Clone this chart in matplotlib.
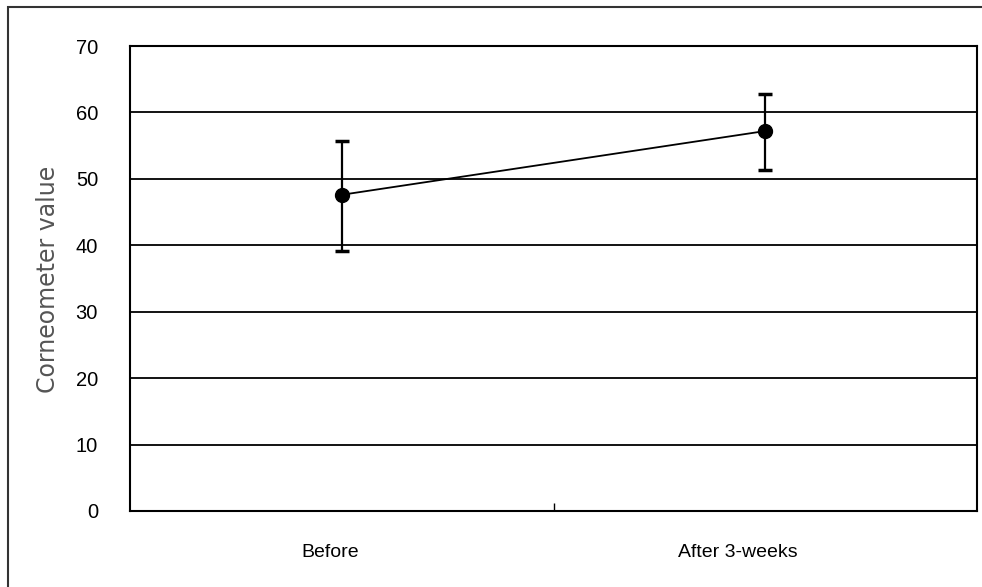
import numpy as np
import matplotlib
matplotlib.use('Agg')
import matplotlib.pyplot as plt
from matplotlib.patches import Rectangle

# data
groups = ['Before', 'After 3-weeks']
means = [47.6, 57.2]
err_low = [8.4, 5.9]
err_high = [8.1, 5.6]
yticks = [0, 10, 20, 30, 40, 50, 60, 70]

fig = plt.figure(figsize=(9.82, 5.87), dpi=100)
ax = fig.add_axes([130/982, 1 - 511/587, 847/982, 465/587])

# outer frame around the whole chart (right/bottom run off the canvas)
fig.patches.append(Rectangle((8/982, -0.1), 1.2, 1 - 7/587 + 0.1,
                             transform=fig.transFigure, fill=False,
                             edgecolor='#333333', linewidth=1.5))

xpos = [1, 3]
ax.errorbar(xpos, means, yerr=[err_low, err_high], fmt='o-', color='black',
            markersize=10, linewidth=1.3, elinewidth=1.6, capsize=5,
            capthick=2.5, zorder=3)

ax.set_xlim(0, 4)
ax.set_ylim(0, 70)
ax.set_yticks(yticks)
ax.yaxis.grid(True, color='black', linewidth=1.3)
ax.set_axisbelow(True)
for s in ax.spines.values():
    s.set_linewidth(1.5)

tick_font = 'Liberation Sans'
ax.tick_params(axis='y', length=0, pad=23, labelsize=14.5)
for lab in ax.get_yticklabels():
    lab.set_fontfamily(tick_font)

# single centre tick on x axis, pointing inward
ax.set_xticks([2])
ax.set_xticklabels([''])
ax.tick_params(axis='x', direction='in', length=6, width=1)

label_x = [0.944, 2.87]
for xl, g in zip(label_x, groups):
    ax.text(xl, -6.2, g, ha='center', va='center', fontsize=14,
            family=tick_font)

ax.set_ylabel('Corneometer value', fontsize=17, color='#555555',
              family='DejaVu Sans')
ax.yaxis.set_label_coords(-0.083, 0.5 + (511 - 279 - 232.5) / 465)

fig.savefig('out.png', dpi=100)
